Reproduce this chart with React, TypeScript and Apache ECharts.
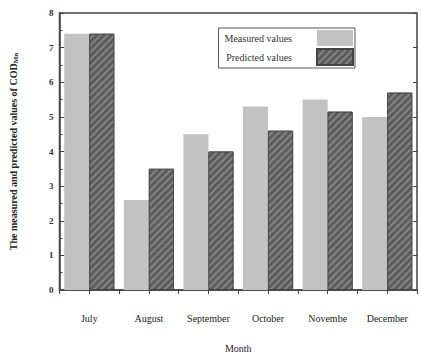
import React, { useEffect, useRef } from "react";
import * as echarts from "echarts";

const months = ["July", "August", "September", "October", "Novembe", "December"];
const measured = [7.4, 2.6, 4.5, 5.3, 5.5, 5.0];
const predicted = [7.4, 3.5, 4.0, 4.6, 5.15, 5.7];
const yTicks = [0, 1, 2, 3, 4, 5, 6, 7, 8];

const serif = "'Liberation Serif', 'DejaVu Serif', serif";

export default function App() {
  const ref = useRef<HTMLDivElement>(null);
  useEffect(() => {
    if (!ref.current) return;
    const chart = echarts.init(ref.current, null, { renderer: "svg" });
    chart.setOption({
      animation: false,
      backgroundColor: "#fff",
      grid: {
        left: 58,
        right: 4,
        top: 13,
        bottom: 63,
        show: true,
        borderColor: "#444",
        borderWidth: 1.5,
      },
      legend: {
        show: true,
        right: 66,
        top: 28,
        orient: "vertical",
        align: "right",
        icon: "rect",
        itemWidth: 36,
        itemHeight: 16,
        itemGap: 2,
        padding: [2, 1, 2, 6],
        borderColor: "#555",
        borderWidth: 1,
        textStyle: { fontFamily: serif, fontSize: 10, color: "#333" },
        formatter: (n: string) => n + "        ",
        data: ["Measured values", "Predicted values"],
      },
      xAxis: [
        {
          type: "category",
          data: months,
          axisLine: { show: true, lineStyle: { color: "#444", width: 1.5 } },
          axisTick: { show: false },
          axisLabel: {
            fontFamily: serif,
            fontSize: 10,
            color: "#222",
            margin: 23,
            interval: 0,
          },
          name: "Month",
          nameLocation: "middle",
          nameGap: 53,
          nameTextStyle: { fontFamily: serif, fontSize: 10, color: "#222" },
        },
        {
          type: "value",
          position: "top",
          min: 0,
          max: 12,
          interval: 1,
          axisLine: { show: false },
          axisTick: { show: true, inside: true, length: 4, lineStyle: { color: "#444" } },
          axisLabel: { show: false },
          splitLine: { show: false },
        },
      ],
      yAxis: [
        {
          type: "value",
          min: 0,
          max: 8,
          interval: 1,
          axisLine: { show: true, lineStyle: { color: "#444", width: 1.5 } },
          axisTick: { show: true, inside: true, length: 5, lineStyle: { color: "#444" } },
          minorTick: { show: true, splitNumber: 2, length: 3, lineStyle: { color: "#444" } },
          splitLine: { show: false },
          axisLabel: {
            fontFamily: serif,
            fontSize: 9,
            fontWeight: "bold",
            color: "#333",
            margin: 6,
            formatter: (v: number) => (yTicks.includes(v) ? String(v) : ""),
          },
          name: "{a|The measured and predicted values of COD}{s|Mn}",
          nameLocation: "middle",
          nameGap: 40,
          nameRotate: 90,
          nameTextStyle: {
            rich: {
              a: { fontFamily: serif, fontSize: 10, fontWeight: "bold", color: "#222" },
              s: { fontFamily: serif, fontSize: 7, fontWeight: "bold", color: "#222", padding: [6, 0, 0, 0] },
            },
          },
        },
        {
          type: "value",
          position: "right",
          min: 0,
          max: 8,
          interval: 1,
          axisLine: { show: false },
          axisTick: { show: true, inside: true, length: 4, lineStyle: { color: "#444" } },
          axisLabel: { show: false },
          splitLine: { show: false },
        },
      ],
      series: [
        {
          name: "Measured values",
          type: "bar",
          data: measured,
          barGap: "0%",
          barCategoryGap: "16%",
          itemStyle: { color: "#c2c2c2" },
        },
        {
          name: "Predicted values",
          type: "bar",
          data: predicted,
          barGap: "0%",
          barCategoryGap: "16%",
          itemStyle: {
            color: "#5c5c5c",
            borderColor: "#444",
            borderWidth: 0.8,
            decal: {
              symbol: "rect",
              color: "rgba(140,140,140,0.8)",
              dashArrayX: [1, 0],
              dashArrayY: [1.5, 3],
              rotation: -Math.PI / 4,
            },
          },
        },
      ],
    });
    return () => chart.dispose();
  }, []);
  return <div ref={ref} style={{ width: 421, height: 358, position: "absolute", left: 0, top: 0 }} />;
}
